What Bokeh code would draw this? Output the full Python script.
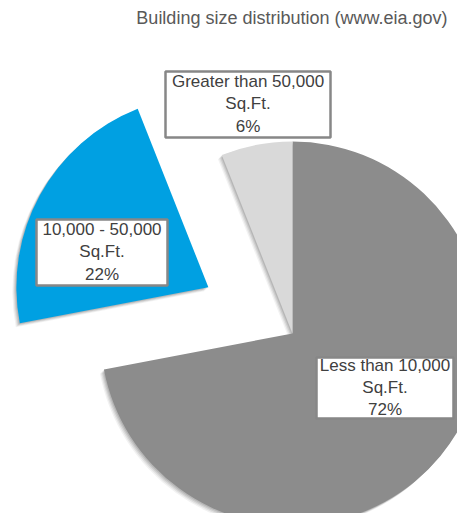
import math
from bokeh.plotting import figure
from bokeh.models import Range1d, Label, ColumnDataSource
from bokeh.core.properties import value
from bokeh.embed import file_html
from bokeh.resources import INLINE

# ---- data ----
categories = ["Less than 10,000", "10,000 - 50,000", "Greater than 50,000"]
unit = "Sq.Ft."
shares = [72, 22, 6]
colors = ["#8c8c8c", "#00a0e2", "#d9d9d9"]
explode = [0.0, 0.5, 0.0]
title_text = "Building size distribution (www.eia.gov)"

# ---- layout (reference-image pixels; y measured downward) ----
W, H = 457, 513
cx, cy, R = 292, 333, 192
label_boxes = [  # centre x, centre y, width, height
    (384.5, 387.5, 137, 61),
    (101.5, 252.0, 131, 66),
    (247.5, 104.0, 165, 66),
]

p = figure(width=W, height=H, output_backend="svg", toolbar_location=None,
           x_range=Range1d(0, W), y_range=Range1d(-H, 0),
           min_border=0, outline_line_color=None)
p.axis.visible = False
p.grid.visible = False
p.background_fill_color = "white"
p.border_fill_color = "white"

total = sum(shares)
starts, ends, xs, ys = [], [], [], []
cum = 0.0
for s, e in zip(shares, explode):
    a0 = math.pi / 2 - 2 * math.pi * cum / total
    cum += s
    a1 = math.pi / 2 - 2 * math.pi * cum / total
    mid = (a0 + a1) / 2
    starts.append(a0)
    ends.append(a1)
    xs.append(cx + e * R * math.cos(mid))
    ys.append(-cy + e * R * math.sin(mid))

# soft shadows (down-left)
for k, alpha in [(4, 0.05), (3, 0.07), (2, 0.09), (1, 0.1)]:
    p.wedge(x=[x - k for x in xs], y=[y - k for y in ys], radius=R,
            start_angle=starts, end_angle=ends, direction="clock",
            fill_color="black", fill_alpha=alpha, line_color=None)

src = ColumnDataSource(dict(x=xs, y=ys, start=starts, end=ends, color=colors))
p.wedge(x="x", y="y", radius=R, start_angle="start", end_angle="end",
        direction="clock", fill_color="color", line_color=None, source=src)

# labels
bx = [b[0] for b in label_boxes]
by = [-b[1] for b in label_boxes]
bw = [b[2] for b in label_boxes]
bh = [b[3] for b in label_boxes]
p.rect(x=bx, y=by, width=bw, height=bh, fill_color="white",
       line_color="#878787", line_width=2.5)
texts = [f"{c}\n{unit}\n{round(100 * s / total)}%" for c, s in zip(categories, shares)]
p.text(x=bx, y=[y + 0.5 for y in by], text=texts, text_align="center", text_baseline="middle",
       text_font=value("Liberation Sans"), text_font_size="17px",
       text_color="#404040", text_line_height=1.18)

p.add_layout(Label(x=447, y=-17, text=title_text, text_align="right",
                   text_baseline="middle", text_font="Liberation Sans",
                   text_font_size="18px", text_color="#595959"))

open("out.html", "w").write(file_html(p, INLINE))
